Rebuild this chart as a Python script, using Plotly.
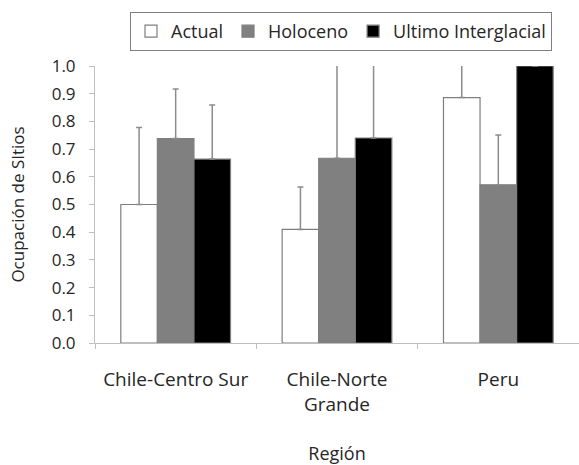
import plotly.graph_objects as go

regions = ["Chile-Centro Sur", "Chile-Norte<br>Grande", "Peru"]
actual = [0.50, 0.41, 0.886]
holoceno = [0.738, 0.667, 0.571]
interglacial = [0.664, 0.74, 1.0]
err_actual = [0.278, 0.153, 0.30]
err_holoceno = [0.179, 0.45, 0.18]
err_interglacial = [0.195, 0.40, 0.0]

series = [
    ("Actual", actual, err_actual, "#ffffff"),
    ("Holoceno", holoceno, err_holoceno, "#808080"),
    ("Ultimo Interglacial", interglacial, err_interglacial, "#000000"),
]

FONT = "Open Sans"
TXT = "#262626"

fig = go.Figure()
for name, vals, errs, color in series:
    fig.add_trace(go.Bar(
        name=name, x=regions, y=vals,
        marker=dict(color=color, line=dict(color="#7f7f7f", width=1.2)),
        error_y=dict(type="data", array=errs, arrayminus=[0] * len(errs),
                     symmetric=False, color="#8c8c8c", thickness=1.5, width=3),
    ))

fig.update_layout(
    width=579, height=465,
    margin=dict(l=95, r=0, t=66, b=122),
    paper_bgcolor="white", plot_bgcolor="white",
    barmode="group", bargap=0.32, bargroupgap=0,
    font=dict(family=FONT, size=17, color=TXT),
    showlegend=True,
    legend=dict(orientation="h", xref="container", x=130 / 579, xanchor="left",
                yref="container", y=1 - 12 / 465, yanchor="top",
                bordercolor="#7f7f7f", borderwidth=1, bgcolor="white",
                font=dict(size=18, color=TXT), itemwidth=30,
                tracegroupgap=0, traceorder="normal"),
)
fig.update_yaxes(
    range=[0, 1.0], dtick=0.1, tickformat=".1f",
    showgrid=False, showline=True, linecolor="#bfbfbf", linewidth=1,
    ticks="outside", ticklen=5, tickcolor="#bfbfbf",
    tickfont=dict(size=17), ticklabelstandoff=10,
    title=dict(text="Ocupación de SItios", font=dict(size=17), standoff=22),
    zeroline=False, automargin=False,
)
fig.update_xaxes(
    showgrid=False, showline=True, linecolor="#bfbfbf", linewidth=1,
    ticks="outside", ticklen=5, tickcolor="#bfbfbf", tickson="boundaries",
    tickfont=dict(size=19), ticklabelstandoff=19, range=[-0.5, 2.5],
    title=dict(text="Región", font=dict(size=18), standoff=39),
    automargin=False,
)

fig.write_html("out.html")
